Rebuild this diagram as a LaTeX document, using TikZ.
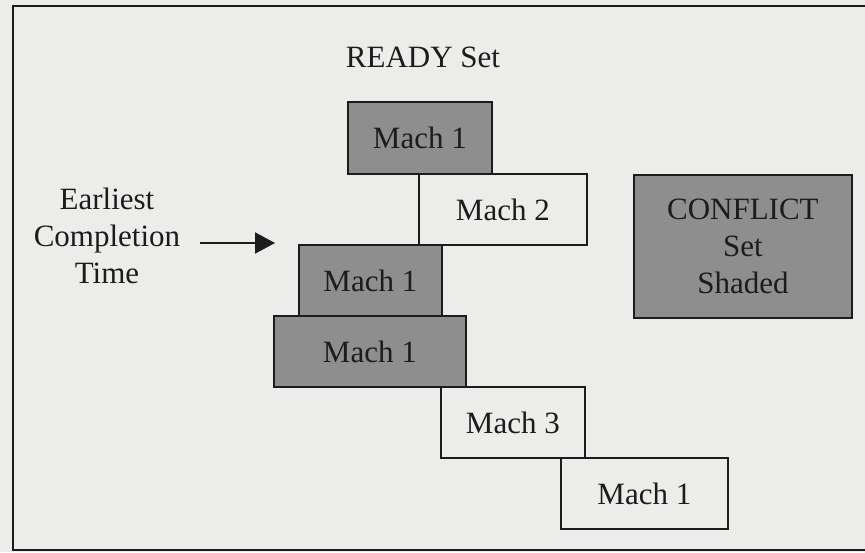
\documentclass[tikz,border=0pt]{standalone}
\usepackage{fontspec}
\setmainfont{Liberation Serif}
\usepackage{xcolor}
\usetikzlibrary{arrows.meta, positioning}
\definecolor{paper}{RGB}{236,236,234}
\definecolor{shade}{RGB}{142,142,142}
\definecolor{ink}{RGB}{28,28,28}

\begin{document}
\begin{tikzpicture}[x=1pt, y=-1pt, >=Stealth, every node/.style={font=\fontsize{31}{37}\selectfont, text=ink},
  machbox/.style={draw=ink, line width=1.8pt, anchor=north west, inner sep=0pt},
  shaded/.style={machbox, fill=shade}]
% page and frame
\fill[paper] (0,0) rectangle (865,552);
\begin{scope}
\clip (0,0) rectangle (865,552);
\draw[ink, line width=2pt] (13,6) rectangle (880,550);
\end{scope}

\node (ready) at (423,57.5) {READY Set};

\node[shaded, minimum width=144pt, minimum height=72pt] (m1a) at (347,101) {Mach 1};
\node[machbox, minimum width=168pt, minimum height=71pt] (m2) at (418,173) {Mach 2};
\node[shaded, minimum width=143pt, minimum height=71pt] (m1b) at (298,244) {Mach 1};
\node[shaded, minimum width=192pt, minimum height=71pt] (m1c) at (273,315) {Mach 1};
\node[machbox, minimum width=144pt, minimum height=71pt] (m3) at (440,386) {Mach 3};
\node[machbox, minimum width=167pt, minimum height=71pt] (m1d) at (560,457) {Mach 1};

\node[shaded, align=center, minimum width=218pt, minimum height=143pt] (conflict) at (633,174) {CONFLICT\\Set\\Shaded};

\node[align=center, inner sep=0pt] (ect) at (107,236) {Earliest\\Completion\\Time};
\coordinate (ecttip) at (275,243);
\draw[-{Triangle[length=20pt, width=21pt]}, ink, line width=2pt, shorten <=20pt] (ect.east |- ecttip) -- (ecttip);
\end{tikzpicture}
\end{document}
